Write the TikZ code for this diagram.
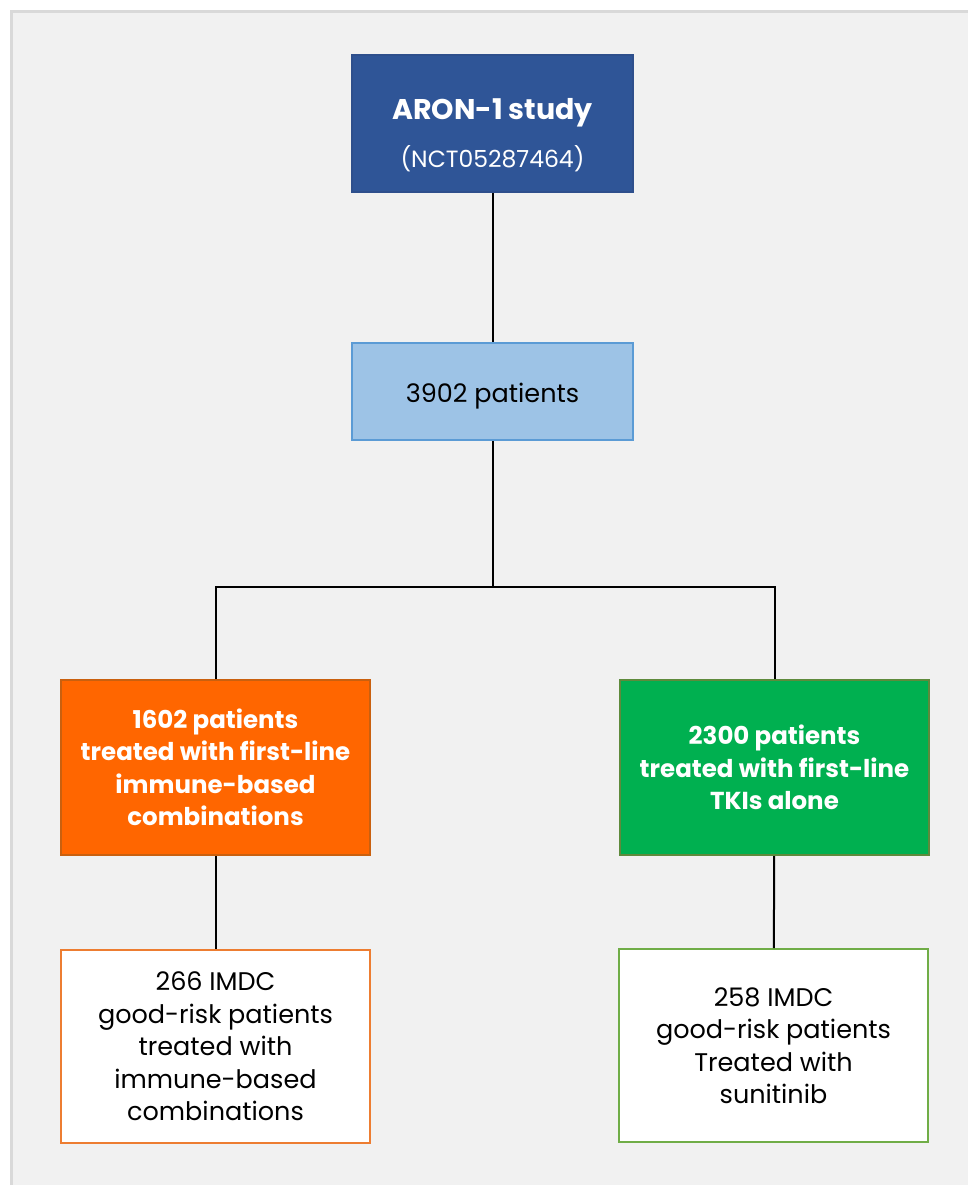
\documentclass[tikz,border=0pt]{standalone}
\usepackage{fontspec}
\setmainfont{Poppins}
\usetikzlibrary{positioning,calc}
\definecolor{aronBlue}{HTML}{2F5597}
\definecolor{aronBlueEdge}{HTML}{2E4F8C}
\definecolor{cohortFill}{HTML}{9DC3E6}
\definecolor{cohortEdge}{HTML}{5B9BD5}
\definecolor{ioOrange}{HTML}{FF6600}
\definecolor{ioEdge}{HTML}{C9600F}
\definecolor{tkiGreen}{HTML}{00B050}
\definecolor{tkiEdge}{HTML}{5E8A3C}
\definecolor{goodOrange}{HTML}{ED7D31}
\definecolor{goodGreen}{HTML}{70AD47}
\definecolor{panelGrey}{HTML}{F1F1F1}
\definecolor{panelEdge}{HTML}{D9D9D9}

\begin{document}
\begin{tikzpicture}[x=1pt,y=-1pt,
    box/.style={draw,line width=2pt,align=center,inner sep=0pt,
      font=\fontsize{25.5}{32.5}\selectfont},
    armbox/.style={box,text=white,minimum width=309pt,minimum height=175pt,
      font=\bfseries\fontsize{24.5}{32.5}\selectfont},
    link/.style={line width=2pt,black}]
  \useasboundingbox (0,0) rectangle (968,1185);
  % panel
  \fill[white] (0,0) rectangle (968,1185);
  \fill[panelGrey] (10,10) rectangle (968,1185);
  \draw[panelEdge,line width=3pt] (11.5,1185) -- (11.5,11.5) -- (968,11.5);

  \node[box,draw=aronBlueEdge,fill=aronBlue,text=white,minimum width=281pt,minimum height=137pt] (study) at (492.5,123.5)
    {\bfseries\fontsize{28.5}{34}\selectfont\rule{0pt}{44pt}ARON-1 study\\[16pt]{\mdseries\fontsize{23.5}{28}\selectfont (NCT05287464)}};
  \node[box,draw=cohortEdge,fill=cohortFill,minimum width=281pt,minimum height=97pt] (total) at (492.5,391.5)
    {\rule{0pt}{29pt}3902 patients};
  \node[armbox,draw=ioEdge,fill=ioOrange] (immune) at (215.5,767.5)
    {1602 patients\\treated with first-line\\immune-based\\combinations};
  \node[armbox,draw=tkiEdge,fill=tkiGreen] (tki) at (774.5,767.5)
    {2300 patients\\treated with first-line\\TKIs alone};
  \node[box,draw=goodOrange,fill=white,minimum width=309pt,minimum height=193pt] (goodIO) at (215.5,1046.5)
    {266 IMDC\\good-risk patients\\treated with\\immune-based\\combinations};
  \node[box,draw=goodGreen,fill=white,minimum width=309pt,minimum height=193pt] (goodSun) at (773.5,1045.5)
    {258 IMDC\\good-risk patients\\Treated with\\sunitinib};

  \coordinate (split) at (492.5,587);
  \draw[link] (study) -- (total);
  \draw[link] (total) -- (split);
  \draw[link] (immune.north) |- (split) -| (tki.north);
  \draw[link] (immune) -- (goodIO);
  \draw[link] (tki) -- (goodSun);
\end{tikzpicture}
\end{document}
